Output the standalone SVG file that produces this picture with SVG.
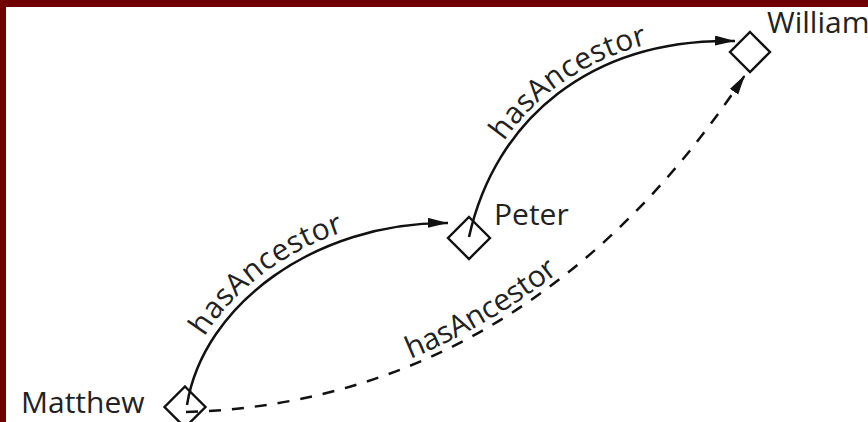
<svg xmlns="http://www.w3.org/2000/svg" width="868" height="422" viewBox="0 0 868 422">
<style>
.node { fill: #ffffff; stroke: #111111; stroke-width: 2.4; }
.lbl { font-family: "Open Sans", "Noto Sans", "Liberation Sans", sans-serif; font-size: 30px; fill: #222222; }
.edge { fill: none; stroke: #111111; stroke-width: 2.5; }
.dashed { stroke-dasharray: 12 11; }
.elbl { font-family: "Open Sans", "Noto Sans", "Liberation Sans", sans-serif; font-size: 30px; fill: #222222; text-anchor: middle; }
</style>
<defs>
<marker id="arrow" markerUnits="userSpaceOnUse" markerWidth="22" markerHeight="12" refX="20" refY="5" orient="auto">
<path d="M0,0 L20,5 L0,10 z" fill="#111111"/>
</marker>
</defs>
<rect x="0" y="0" width="868" height="422" fill="#700000"/>
<rect x="6" y="7" width="862" height="415" fill="#ffffff"/>

<g id="node-matthew">
<path class="node" d="M185,386.5 L205.5,407 L185,427.5 L164.5,407 Z"/>
<text class="lbl" x="21" y="413">Matthew</text>
</g>
<g id="node-peter">
<path class="node" d="M469,217 L490,238 L469,259 L448,238 Z"/>
<text class="lbl" x="494" y="225">Peter</text>
</g>
<g id="node-william">
<path class="node" d="M750,32 L770,52 L750,72 L730,52 Z"/>
<text class="lbl" x="767" y="33">William</text>
</g>

<g id="connectors">
<path id="e1" class="edge" d="M187,405 C203,305 315,222 448,223" marker-end="url(#arrow)"/>
<path id="e2" class="edge" d="M469,237 C495,120 590,38 735,41" marker-end="url(#arrow)"/>
<path id="e3" class="edge dashed" d="M186,412 C440,405 622,262 745,75" marker-end="url(#arrow)"/>
<text class="elbl" dy="-8"><textPath href="#e1" startOffset="45%">hasAncestor</textPath></text>
<text class="elbl" dy="-6"><textPath href="#e2" startOffset="52%">hasAncestor</textPath></text>
<text class="elbl" dy="-6"><textPath href="#e3" startOffset="47%">hasAncestor</textPath></text>
</g>
</svg>
